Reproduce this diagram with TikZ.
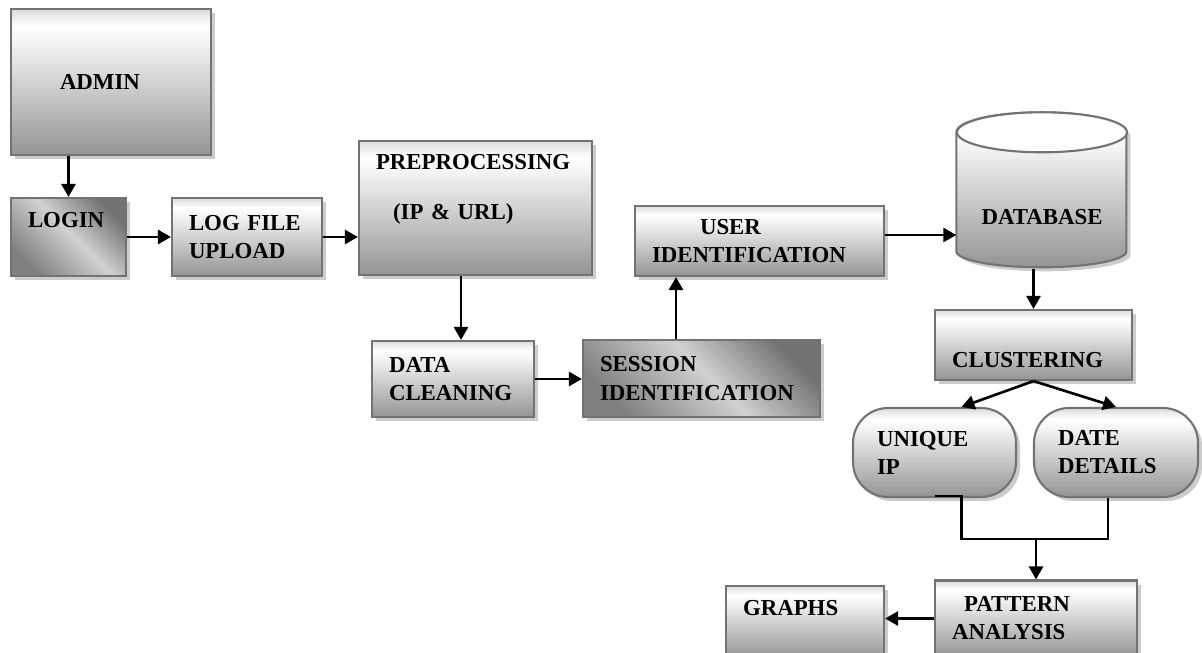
\documentclass[tikz,border=0pt]{standalone}
\usepackage{fontspec}
\setmainfont{Liberation Serif}
\usetikzlibrary{arrows.meta,shadows,backgrounds}
\pgfdeclareverticalshading{boxshade}{100bp}{color(0bp)=(black!42); color(25bp)=(black!42); color(64bp)=(black!4); color(69bp)=(white); color(75bp)=(black!14); color(100bp)=(black!14)}
\pgfdeclarehorizontalshading{diagshade}{100bp}{color(0bp)=(black!50); color(25bp)=(black!50); color(52bp)=(black!18); color(75bp)=(black!55); color(100bp)=(black!55)}
\tikzset{
  blk/.style={draw=black!55, line width=.6pt, shade, shading=boxshade,
    drop shadow={shadow xshift=.04cm, shadow yshift=-.04cm, fill=black!40, opacity=.5},
    align=left, inner xsep=.17cm, inner ysep=1pt, font=\fontsize{6.5}{8}\selectfont\bfseries},
  darkbox/.style={shading=diagshade, shading angle=45},
  sz/.style 2 args={minimum width=#1cm, minimum height=#2cm, text width=#1cm-.34cm},
  cylbody/.style={draw=black!55, line width=.6pt, shade, shading=boxshade,
    drop shadow={shadow xshift=.04cm, shadow yshift=-.04cm, fill=black!40, opacity=.5}},
  arr/.style={-{Triangle[length=1.3mm,width=1.4mm]}, line width=.75pt},
  link/.style={line width=.75pt}
}
\begin{document}
\begin{tikzpicture}
\useasboundingbox (0,0) rectangle (12.02,6.52);
\node[blk, sz={2}{1.46}, inner xsep=.49cm, text width=1.02cm] (admin) at (1.11,5.70) {ADMIN};
\node[blk, darkbox, sz={1.15}{.78}, text depth=.34cm] (login) at (.685,4.15) {LOGIN};
\node[blk, sz={1.5}{.78}] (upload) at (2.47,4.15) {LOG FILE\\UPLOAD};
\node[blk, sz={2.33}{1.34}, text depth=.92cm] (prep) at (4.755,4.44) {PREPROCESSING\\[2.2mm]\hspace*{.17cm}(IP \& URL)};
\node[blk, sz={1.62}{.76}] (clean) at (4.53,2.73) {DATA\\CLEANING};
\node[blk, darkbox, sz={2.37}{.77}] (sess) at (7.015,2.735) {SESSION\\IDENTIFICATION};
\node[blk, sz={2.49}{.70}] (user) at (7.595,4.11) {\hspace*{.48cm}USER\\IDENTIFICATION};
\node[minimum width=1.7cm, minimum height=1.55cm, text height=.68cm, font=\fontsize{6.5}{8}\selectfont\bfseries] (db) at (10.42,4.615) {DATABASE};
\node[blk, sz={1.97}{.70}, text height=.45cm] (clus) at (10.335,3.07) {CLUSTERING};
\node[blk, sz={1.63}{.89}, rounded corners=.35cm, inner xsep=.24cm, text width=1.15cm] (uniq) at (9.345,1.995) {UNIQUE\\IP};
\node[blk, sz={1.64}{.89}, rounded corners=.35cm, inner xsep=.24cm, text width=1.16cm] (date) at (11.16,1.995) {DATE\\DETAILS};
\node[blk, sz={2.02}{.76}] (patt) at (10.36,.335) {\hspace*{.12cm}PATTERN\\ANALYSIS};
\node[blk, sz={1.58}{.72}, text depth=.28cm] (graphs) at (8.05,.30) {GRAPHS};
\begin{scope}[on background layer]
\path[cylbody] (db.north west) ++(0,-.2) -- ++(0,-1.19) arc[start angle=180,end angle=360,x radius=.85,y radius=.16] -- ++(0,1.19) arc[start angle=0,end angle=180,x radius=.85,y radius=.2] -- cycle;
\draw[draw=black!55, line width=.6pt, fill=white] (db.north) ++(0,-.2) ellipse[x radius=.85,y radius=.2];
\end{scope}
\draw[arr] (admin.south -| login.north) -- (login.north);
\draw[arr] (login.east) -- (upload.west);
\draw[arr] (upload.east) -- (upload.east -| prep.west);
\draw[arr] ([xshift=-1.45mm]prep.south) -- ([xshift=-1.45mm]prep.south |- clean.north);
\draw[arr] (clean.east) -- (clean.east -| sess.west);
\draw[arr] ([xshift=-2.55mm]sess.north) -- ([xshift=-2.55mm]sess.north |- user.south);
\draw[arr] ([yshift=.6mm]user.east) -- ([yshift=.6mm]user.east -| db.west);
\draw[arr] (db.south -| clus.north) -- (clus.north);
\draw[arr] (clus.south) -- ([xshift=2.7mm]uniq.north);
\draw[arr] (clus.south) -- (date.north);
\coordinate (merge) at (patt.north |- 0,1.13);
\draw[link] ([yshift=.2mm]uniq.south) -- ++(.27,0) |- (merge);
\draw[link] ([xshift=-.8mm]date.south) |- (merge);
\draw[arr] (merge) -- (patt.north);
\draw[arr] (patt.west) -- (patt.west -| graphs.east);
\end{tikzpicture}
\end{document}
